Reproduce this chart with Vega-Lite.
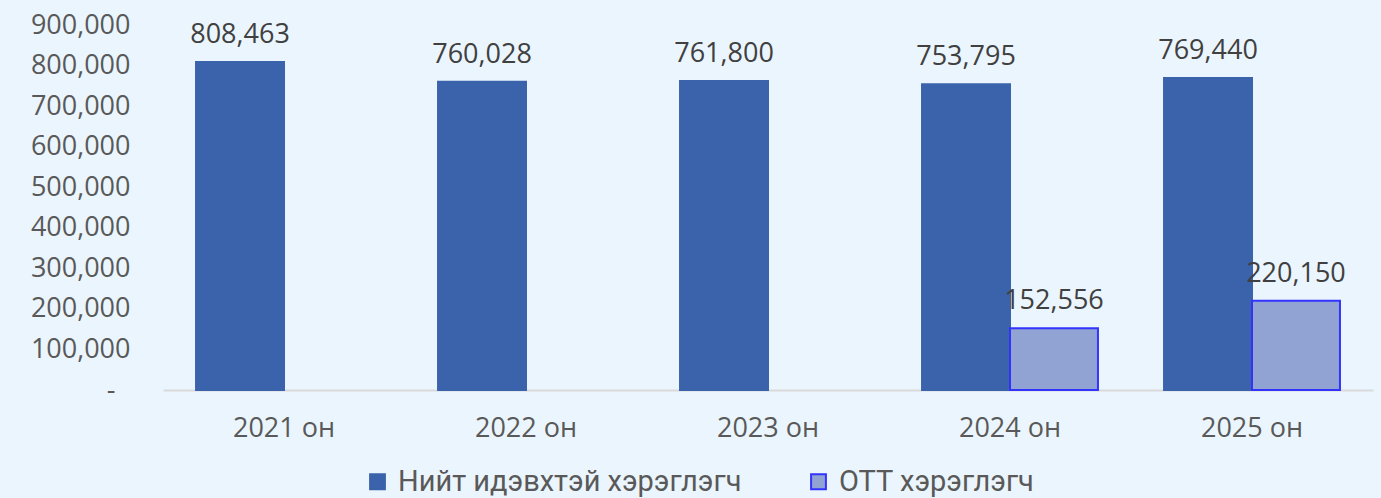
{
  "$schema": "https://vega.github.io/schema/vega-lite/v6.json",
  "autosize": {"type": "none"},
  "width": 1210,
  "height": 365,
  "padding": {"left": 163, "top": 25, "right": 8, "bottom": 108},
  "background": "#ebf5fd",
  "config": {
    "view": {"stroke": null},
    "font": "Open Sans"
  },
  "data": {
    "values": [
      {"year": "2021 он", "series": "Нийт идэвхтэй хэрэглэгч", "value": 808463},
      {"year": "2022 он", "series": "Нийт идэвхтэй хэрэглэгч", "value": 760028},
      {"year": "2023 он", "series": "Нийт идэвхтэй хэрэглэгч", "value": 761800},
      {"year": "2024 он", "series": "Нийт идэвхтэй хэрэглэгч", "value": 753795},
      {"year": "2025 он", "series": "Нийт идэвхтэй хэрэглэгч", "value": 769440},
      {"year": "2024 он", "series": "OTT хэрэглэгч", "value": 152556},
      {"year": "2025 он", "series": "OTT хэрэглэгч", "value": 220150}
    ]
  },
  "encoding": {
    "x": {
      "field": "year", "type": "nominal", "title": null,
      "scale": {"paddingInner": 0.273, "paddingOuter": 0.1365},
      "axis": {
        "labelAngle": 0, "ticks": false, "domainColor": "#d9d9d9", "domainWidth": 2,
        "labelFont": "Open Sans", "labelFontSize": 27, "labelColor": "#595959",
        "labelPadding": 25, "grid": false
      }
    },
    "xOffset": {"field": "series", "type": "nominal", "sort": ["Нийт идэвхтэй хэрэглэгч", "OTT хэрэглэгч"], "scale": {"paddingInner": 0, "paddingOuter": 0}},
    "y": {
      "field": "value", "type": "quantitative", "title": null,
      "scale": {"domain": [0, 900000], "nice": false},
      "axis": {
        "values": [0, 100000, 200000, 300000, 400000, 500000, 600000, 700000, 800000, 900000],
        "labelExpr": "datum.value == 0 ? '-' : format(datum.value, ',')",
        "ticks": false, "domain": false, "grid": false,
        "labelFont": "Open Sans", "labelFontSize": 27, "labelColor": "#595959",
        "labelPadding": {"condition": {"test": "datum.value == 0", "value": 48}, "value": 33}
      }
    }
  },
  "layer": [
    {
      "mark": {"type": "bar", "strokeWidth": 2},
      "encoding": {
        "fill": {
          "field": "series", "type": "nominal", "title": null,
          "scale": {"domain": ["Нийт идэвхтэй хэрэглэгч", "OTT хэрэглэгч"], "range": ["#3b63ab", "#90a3d3"]},
          "legend": {
            "orient": "none", "legendX": 200, "legendY": 442, "direction": "horizontal",
            "symbolType": "square", "symbolSize": 220, "labelFont": "Roboto", "labelFontSize": 29,
            "labelColor": "#595959", "columnPadding": 62, "labelOffset": 6, "symbolStrokeWidth": 2,
            "labelLimit": 0
          }
        },
        "stroke": {
          "field": "series", "type": "nominal", "title": null,
          "scale": {"domain": ["Нийт идэвхтэй хэрэглэгч", "OTT хэрэглэгч"], "range": ["#3b63ab", "#3333ff"]},
          "legend": null
        }
      }
    },
    {
      "mark": {"type": "text", "baseline": "alphabetic", "dy": -19, "font": "Open Sans", "fontSize": 27, "color": "#404040"},
      "encoding": {
        "text": {"field": "value", "type": "quantitative", "format": ","}
      }
    }
  ]
}
